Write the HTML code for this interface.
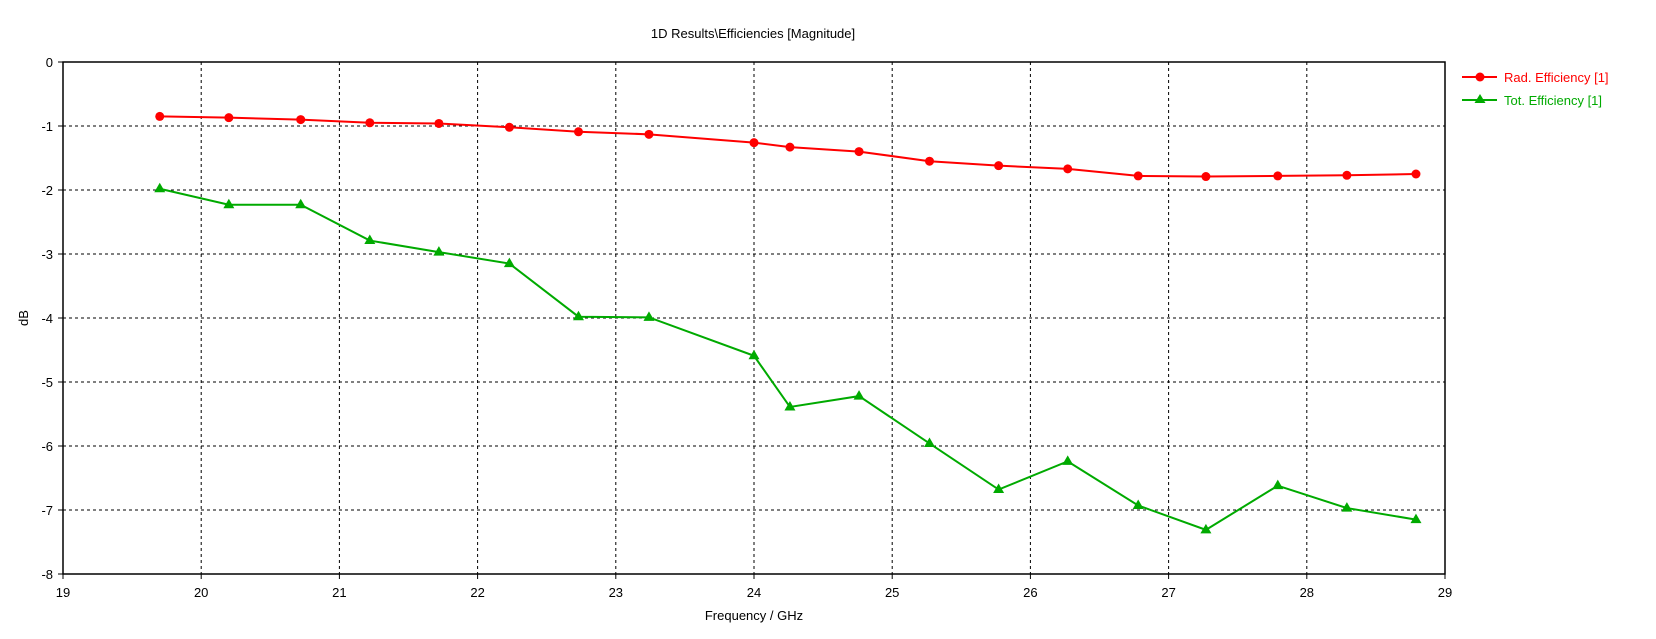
<!DOCTYPE html>
<html><head><meta charset="utf-8"><style>
body{margin:0;background:#fff;}
svg text{font-family:"Liberation Sans","DejaVu Sans",sans-serif;font-size:13px;fill:#000;}
</style></head><body>
<svg id="chart" width="1656" height="634" xmlns="http://www.w3.org/2000/svg">
<text x="753" y="38" text-anchor="middle">1D Results\Efficiencies [Magnitude]</text>
<g id="grid"></g>
<g id="ticks"></g>
<rect x="63" y="62" width="1382" height="512" fill="none" stroke="#000" stroke-width="1.5"/>
<text x="754" y="620" text-anchor="middle">Frequency / GHz</text>
<text transform="translate(28,318) rotate(-90)" text-anchor="middle">dB</text>
<g id="series"></g>
<g>
<g>
<line x1="1462" y1="77" x2="1497" y2="77" stroke="#f00" stroke-width="2"/>
<circle cx="1480" cy="77" r="4.5" fill="#f00"/>
<text x="1504" y="82" style="fill:#f00">Rad. Efficiency [1]</text></g>
<g>
<line x1="1462" y1="100" x2="1497" y2="100" stroke="#0a0" stroke-width="2"/>
<polygon points="1480,94 1485.5,103 1474.5,103" fill="#0a0"/>
<text x="1504" y="105" style="fill:#0a0">Tot. Efficiency [1]</text></g>
</g>
</svg>
<script>
const freq=[19.7,20.2,20.72,21.22,21.72,22.23,22.73,23.24,24.0,24.26,24.76,25.27,25.77,26.27,26.78,27.27,27.79,28.29,28.79];
const radEff=[-0.85,-0.87,-0.9,-0.95,-0.96,-1.02,-1.09,-1.13,-1.26,-1.33,-1.4,-1.55,-1.62,-1.67,-1.78,-1.79,-1.78,-1.77,-1.75];
const totEff=[-1.98,-2.23,-2.23,-2.79,-2.97,-3.15,-3.98,-3.99,-4.59,-5.39,-5.22,-5.96,-6.68,-6.24,-6.93,-7.31,-6.62,-6.97,-7.15];
const xTicks=[19,20,21,22,23,24,25,26,27,28,29];
const yTicks=[0,-1,-2,-3,-4,-5,-6,-7,-8];
const X0=63,X1=1445,Y0=62,Y1=574;
function xs(v){return X0+(v-19)/10*(X1-X0);}
function ys(v){return Y0+(0-v)/8*(Y1-Y0);}
const NS='http://www.w3.org/2000/svg';
function mk(t,a,p){const e=document.createElementNS(NS,t);for(const k in a)e.setAttribute(k,a[k]);p.appendChild(e);return e;}
const grid=document.getElementById('grid'),ticks=document.getElementById('ticks'),ser=document.getElementById('series');
xTicks.forEach(v=>{const x=xs(v);
 if(v>19&&v<29){const l=mk('line',{x1:x,y1:Y0,x2:x,y2:Y1,stroke:'#000','stroke-dasharray':'3,3'},grid);
 
 }
 mk('line',{x1:x,y1:Y1,x2:x,y2:Y1+5,stroke:'#000'},ticks);
 const t=mk('text',{x:x,y:Y1+23,'text-anchor':'middle'},ticks);t.textContent=v;
 
 });
yTicks.forEach(v=>{const y=ys(v);
 if(v<0&&v>-8){const l=mk('line',{x1:X0,y1:y,x2:X1,y2:y,stroke:'#000','stroke-dasharray':'3,3'},grid);
 
 }
 mk('line',{x1:X0-5,y1:y,x2:X0,y2:y,stroke:'#000'},ticks);
 const t=mk('text',{x:X0-10,y:y+5,'text-anchor':'end'},ticks);t.textContent=v;
 
 });
function draw(vals,color,marker,name){
 const pts=freq.map((f,i)=>xs(f)+','+ys(vals[i])).join(' ');
 const pl=mk('polyline',{points:pts,fill:'none',stroke:color,'stroke-width':2},ser);
 
 
 freq.forEach((f,i)=>{const x=xs(f),y=ys(vals[i]);let m;
  if(marker==='c')m=mk('circle',{cx:x,cy:y,r:4.5,fill:color},ser);
  else m=mk('polygon',{points:`${x},${y-6} ${x+5.5},${y+3.5} ${x-5.5},${y+3.5}`,fill:color},ser);
  
  });}
draw(radEff,'#f00','c','rad-efficiency');
draw(totEff,'#0a0','t','tot-efficiency');
</script>
</body></html>
